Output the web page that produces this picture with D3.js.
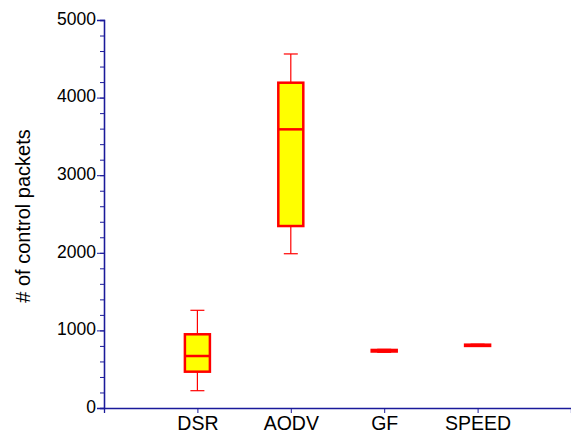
<!DOCTYPE html>
<html>
<head>
<meta charset="utf-8">
<script src="https://cdn.jsdelivr.net/npm/d3@7"></script>
<style>
  body { margin: 0; background: #fff; }
  text { font-family: "Liberation Sans", Arial, sans-serif; fill: #000; }
</style>
</head>
<body>
<div id="chart"></div>
<script>
// categories and box stats
var protocols = ["DSR", "AODV", "GF", "SPEED"];
var whiskLow  = [223, 1988, 718, 795];
var boxLow    = [468, 2345, 728, 800];
var medians   = [670, 3591, 738, 808];
var boxHigh   = [950, 4192, 748, 816];
var whiskHigh = [1259, 4562, 756, 822];
var yTicks = [0, 1000, 2000, 3000, 4000, 5000];

var width = 571, height = 435;
var margin = {top: 20, right: 0, bottom: 27, left: 104};

var svg = d3.select("#chart").append("svg")
    .attr("width", width)
    .attr("height", height);

var axisColor = "#1a1a9a";

var y = d3.scaleLinear().domain([0, 5000]).range([height - margin.bottom, margin.top]);
// five slots, first tick at the origin, categories at 1..4
var x = d3.scaleLinear().domain([0, 5]).range([margin.left, width]);

var boxes = protocols.map(function(p, i){
    return {name: p, lo: whiskLow[i], q1: boxLow[i], med: medians[i], q3: boxHigh[i], hi: whiskHigh[i], pos: i + 1};
});

// y axis: minor ticks every 200
var yAxisMinor = d3.axisLeft(y).tickValues(d3.range(0, 5001, 200)).tickSize(4).tickFormat("");
var yAxisMajor = d3.axisLeft(y).tickValues(yTicks).tickSize(7).tickPadding(1).tickFormat(d3.format("d"));

var gyMinor = svg.append("g").attr("transform", "translate(" + margin.left + ",0)").call(yAxisMinor);
var gy = svg.append("g").attr("transform", "translate(" + margin.left + ",0)").call(yAxisMajor);
[gyMinor, gy].forEach(function(g){
    g.select(".domain").attr("stroke", axisColor).attr("stroke-width", 1.3);
    g.selectAll(".tick line").attr("stroke", axisColor);
});
gy.selectAll(".tick text").style("font-size", "17.5px").attr("dy", "0.25em").attr("fill", "#000");

// x axis
var xAxis = d3.axisBottom(x).tickValues([0, 1, 2, 3, 4, 5]).tickSize(5).tickPadding(3)
    .tickFormat(function(d){ return protocols[d - 1] || ""; });
var gx = svg.append("g").attr("transform", "translate(0," + y(0) + ")").call(xAxis);
gx.select(".domain").attr("stroke", axisColor).attr("stroke-width", 1.3);
gx.selectAll(".tick line").attr("stroke", axisColor);
gx.selectAll(".tick text").style("font-size", "19.5px").attr("fill", "#000");

// y axis title
svg.append("text")
    .attr("transform", "translate(30," + ((margin.top + y(0)) / 2 + 2) + ") rotate(-90)")
    .attr("text-anchor", "middle")
    .style("font-size", "20px")
    .text("# of control packets");

// boxes
var boxW = 25, capW = 14;
var g = svg.append("g");
var b = g.selectAll(".box").data(boxes).enter().append("g").attr("class", "box");

b.append("line") // whisker
    .attr("x1", function(d){ return x(d.pos); }).attr("x2", function(d){ return x(d.pos); })
    .attr("y1", function(d){ return y(d.lo); }).attr("y2", function(d){ return y(d.hi); })
    .attr("stroke", "red").attr("stroke-width", 1.2);
b.append("line")
    .attr("x1", function(d){ return x(d.pos) - capW / 2; }).attr("x2", function(d){ return x(d.pos) + capW / 2; })
    .attr("y1", function(d){ return y(d.hi); }).attr("y2", function(d){ return y(d.hi); })
    .attr("stroke", "red").attr("stroke-width", 1.2);
b.append("line")
    .attr("x1", function(d){ return x(d.pos) - capW / 2; }).attr("x2", function(d){ return x(d.pos) + capW / 2; })
    .attr("y1", function(d){ return y(d.lo); }).attr("y2", function(d){ return y(d.lo); })
    .attr("stroke", "red").attr("stroke-width", 1.2);
b.append("rect")
    .attr("x", function(d){ return x(d.pos) - boxW / 2; })
    .attr("width", boxW)
    .attr("y", function(d){ return y(d.q3); })
    .attr("height", function(d){ return y(d.q1) - y(d.q3); })
    .attr("fill", "#ffff00").attr("stroke", "red").attr("stroke-width", 2.5);
b.append("line")
    .attr("x1", function(d){ return x(d.pos) - boxW / 2; }).attr("x2", function(d){ return x(d.pos) + boxW / 2; })
    .attr("y1", function(d){ return y(d.med); }).attr("y2", function(d){ return y(d.med); })
    .attr("stroke", "red").attr("stroke-width", 2.5);
</script>
</body>
</html>
